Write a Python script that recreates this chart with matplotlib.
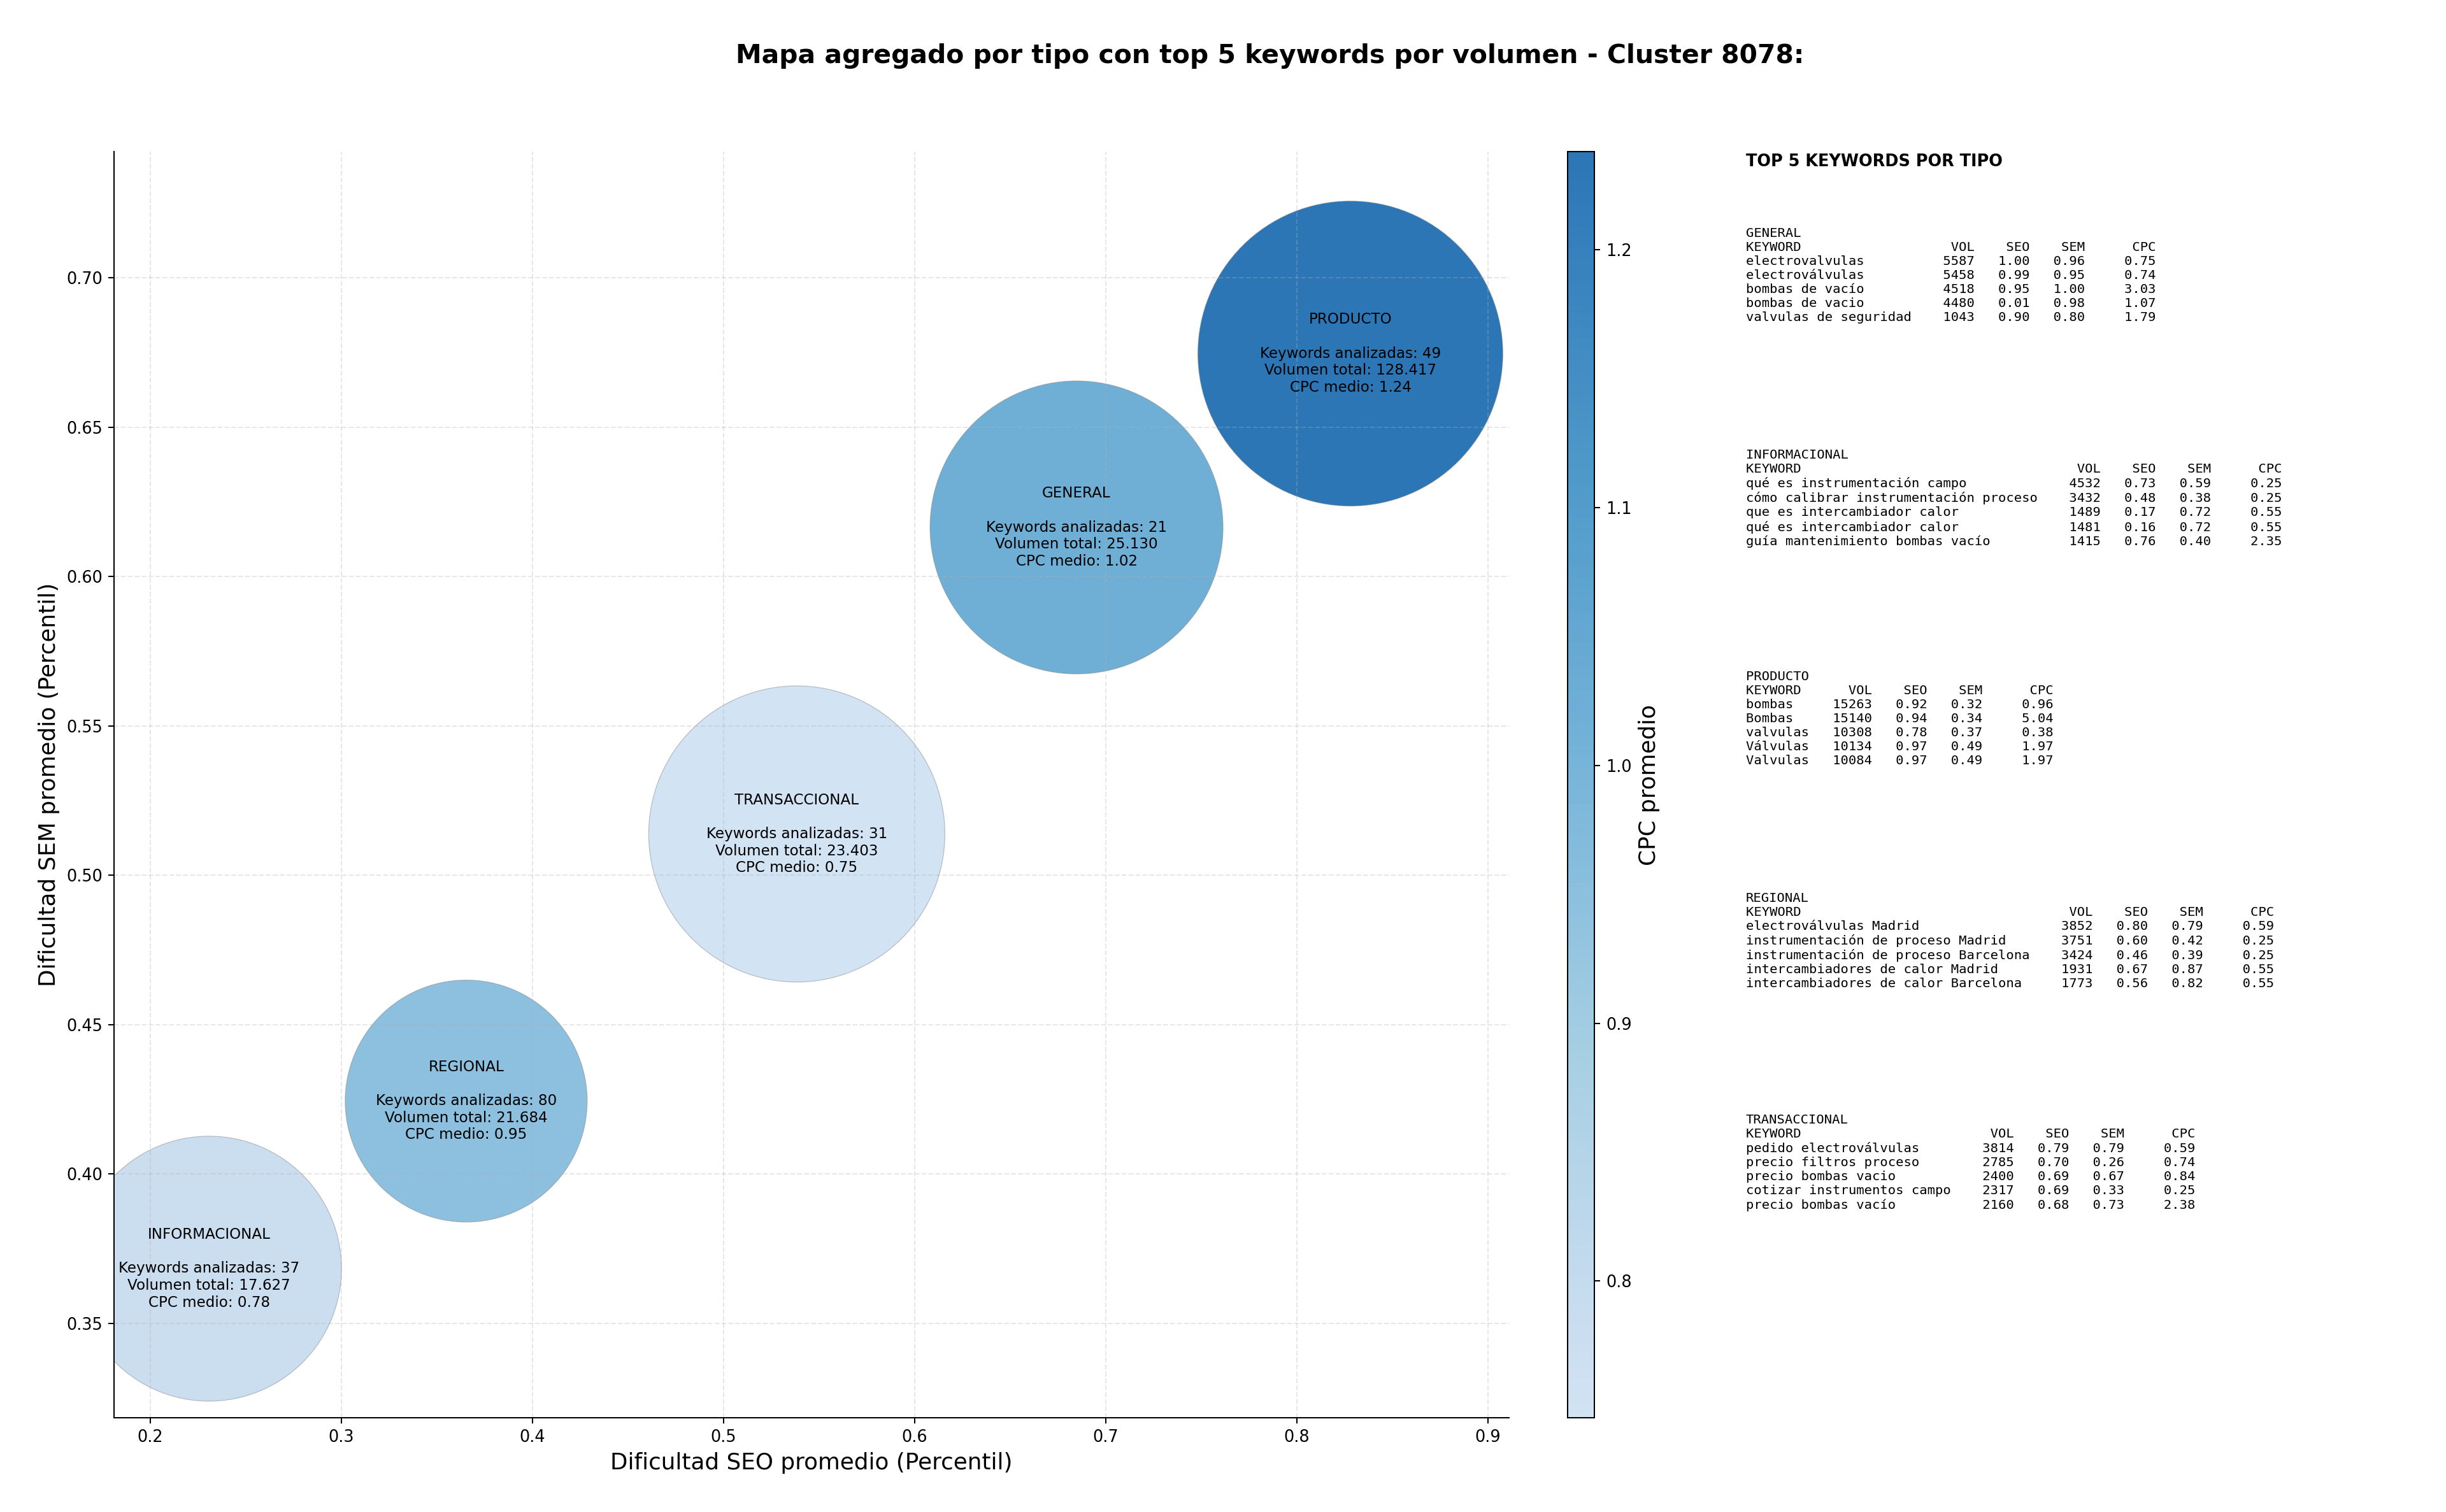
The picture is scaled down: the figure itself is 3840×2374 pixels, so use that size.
import numpy as np
import matplotlib
matplotlib.use('Agg')
import matplotlib.pyplot as plt
from matplotlib.colors import LinearSegmentedColormap

# datos agregados por tipo
tipos = ['GENERAL', 'INFORMACIONAL', 'PRODUCTO', 'REGIONAL', 'TRANSACCIONAL']
seo_medio = [0.6847, 0.2307, 0.8280, 0.3653, 0.5383]
sem_medio = [0.6164, 0.3683, 0.6746, 0.4244, 0.5138]
cpc_medio = [1.02, 0.78, 1.238, 0.95, 0.747]
n_keywords = [21, 37, 49, 80, 31]
volumen_total = [25130, 17627, 128417, 21684, 23403]
area_burbuja = [32400, 26500, 35100, 22100, 33100]

# top 5 por tipo: keyword, vol, seo, sem, cpc
top_general = [
    ('electrovalvulas', 5587, 1.00, 0.96, 0.75),
    ('electroválvulas', 5458, 0.99, 0.95, 0.74),
    ('bombas de vacío', 4518, 0.95, 1.00, 3.03),
    ('bombas de vacio', 4480, 0.01, 0.98, 1.07),
    ('valvulas de seguridad', 1043, 0.90, 0.80, 1.79),
]
top_informacional = [
    ('qué es instrumentación campo', 4532, 0.73, 0.59, 0.25),
    ('cómo calibrar instrumentación proceso', 3432, 0.48, 0.38, 0.25),
    ('que es intercambiador calor', 1489, 0.17, 0.72, 0.55),
    ('qué es intercambiador calor', 1481, 0.16, 0.72, 0.55),
    ('guía mantenimiento bombas vacío', 1415, 0.76, 0.40, 2.35),
]
top_producto = [
    ('bombas', 15263, 0.92, 0.32, 0.96),
    ('Bombas', 15140, 0.94, 0.34, 5.04),
    ('valvulas', 10308, 0.78, 0.37, 0.38),
    ('Válvulas', 10134, 0.97, 0.49, 1.97),
    ('Valvulas', 10084, 0.97, 0.49, 1.97),
]
top_regional = [
    ('electroválvulas Madrid', 3852, 0.80, 0.79, 0.59),
    ('instrumentación de proceso Madrid', 3751, 0.60, 0.42, 0.25),
    ('instrumentación de proceso Barcelona', 3424, 0.46, 0.39, 0.25),
    ('intercambiadores de calor Madrid', 1931, 0.67, 0.87, 0.55),
    ('intercambiadores de calor Barcelona', 1773, 0.56, 0.82, 0.55),
]
top_transaccional = [
    ('pedido electroválvulas', 3814, 0.79, 0.79, 0.59),
    ('precio filtros proceso', 2785, 0.70, 0.26, 0.74),
    ('precio bombas vacio', 2400, 0.69, 0.67, 0.84),
    ('cotizar instrumentos campo', 2317, 0.69, 0.33, 0.25),
    ('precio bombas vacío', 2160, 0.68, 0.73, 2.38),
]
tops = [top_general, top_informacional, top_producto, top_regional, top_transaccional]


def fmt_vol(v):
    return f'{v:,}'.replace(',', '.')


def tabla_top(tipo, filas):
    w = max(len(r[0]) for r in filas)
    lineas = [tipo, f"{'KEYWORD':<{w}}{'VOL':>8}{'SEO':>7}{'SEM':>7}{'CPC':>9}"]
    for kw, vol, seo, sem, cpc in filas:
        lineas.append(f'{kw:<{w}}{vol:>8}{seo:>7.2f}{sem:>7.2f}{cpc:>9.2f}')
    return '\n'.join(lineas)


dpi = 184
fig = plt.figure(figsize=(3840 / dpi, 2374 / dpi), dpi=dpi)
ax = fig.add_axes([0.04661, 0.06234, 0.5703, 0.8374])
cax = fig.add_axes([0.6409, 0.06234, 0.01094, 0.8374])

# Blues recortado y aclarado un poco
base = plt.cm.Blues(np.linspace(0.21, 0.77, 256))
base[:, :3] = base[:, :3] * 0.93 + 0.07
cmap = LinearSegmentedColormap.from_list('blues_t', base)
sc = ax.scatter(seo_medio, sem_medio, s=area_burbuja, c=cpc_medio, cmap=cmap,
                edgecolors=[(0.5, 0.5, 0.5, 0.45)], linewidths=0.5)

for i, tipo in enumerate(tipos):
    txt = (f'{tipo}\n\nKeywords analizadas: {n_keywords[i]}\n'
           f'Volumen total: {fmt_vol(volumen_total[i])}\nCPC medio: {cpc_medio[i]:.2f}')
    ax.text(seo_medio[i], sem_medio[i], txt, ha='center', va='center', fontsize=9)

ax.set_xlim(0.181, 0.911)
ax.set_ylim(0.3184, 0.7422)
ax.set_xlabel('Dificultad SEO promedio (Percentil)', fontsize=14)
ax.set_ylabel('Dificultad SEM promedio (Percentil)', fontsize=14)
ax.grid(True, linestyle='--', alpha=0.3)
ax.spines['top'].set_visible(False)
ax.spines['right'].set_visible(False)
ax.tick_params(labelsize=10)

cbar = fig.colorbar(sc, cax=cax)
cbar.set_label('CPC promedio', fontsize=14)
cbar.ax.tick_params(labelsize=10)

fig.text(0.5193, 0.9585, 'Mapa agregado por tipo con top 5 keywords por volumen - Cluster 8078:',
         ha='center', va='baseline', fontsize=16, fontweight='bold')

x_txt = 0.7138
fig.text(x_txt, 1 - 241 / 2374, 'TOP 5 KEYWORDS POR TIPO', ha='left', va='top',
         fontsize=10, fontweight='bold')
for i, tipo in enumerate(tipos):
    y_top = 1 - (357 + i * 348) / 2374
    fig.text(x_txt, y_top, tabla_top(tipo, tops[i]), ha='left', va='top',
             fontsize=8, family='DejaVu Sans Mono')

fig.savefig('out.png', dpi=dpi)
